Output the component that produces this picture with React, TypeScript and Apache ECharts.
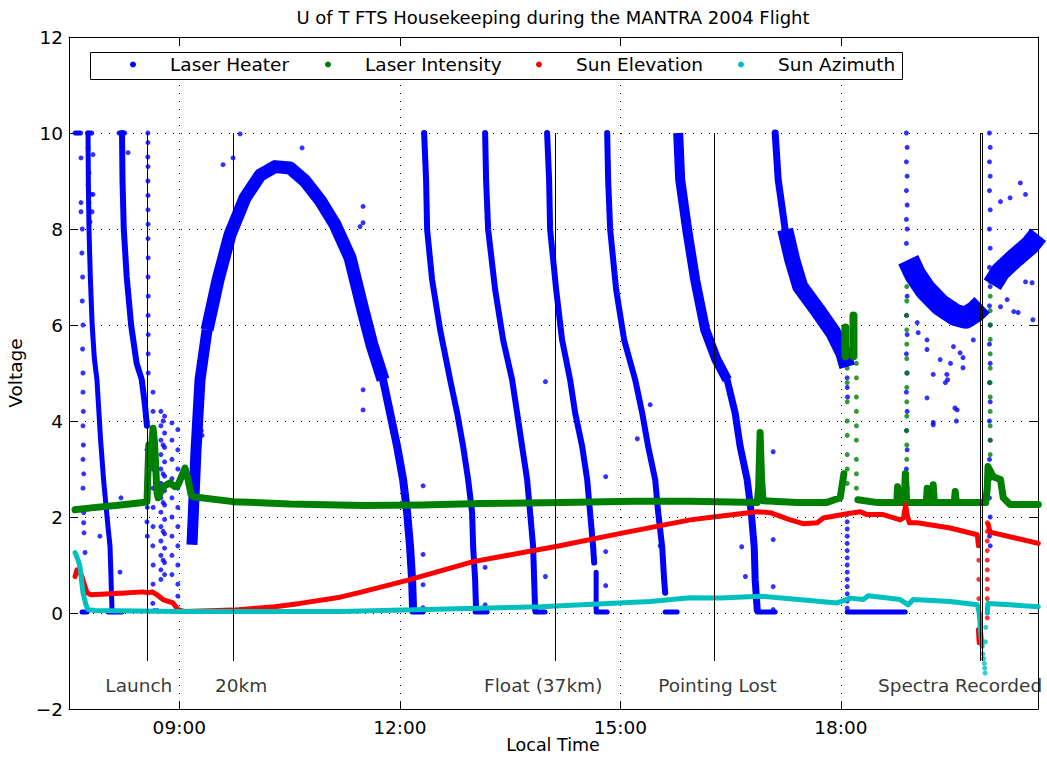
import React, { useEffect, useRef } from 'react';
import * as echarts from 'echarts';

const FONT = 'DejaVu Sans';
const FS = 18.5;
const BLUE = '#0000ff';
const GREEN = '#008000';
const RED = '#ff0000';
const CYAN = '#00bfbf';

// axis ticks
const xTickHours = [9, 12, 15, 18];
const xMin = 7.5;
const xMax = 20.68;
const yMin = -2;
const yMax = 12;
const yStep = 2;

// flight events
const eventNames = ['Launch', '20km', 'Float (37km)', 'Pointing Lost', 'Spectra Recorded'];
const eventLineTimes = [8.565, 9.736, 14.12, 16.27, 19.894, 19.917];
const eventLabelTimes = [8.45, 9.84, 13.95, 16.32, 19.62];
const eventLabelVolt = -1.5;
const eventLineTop = 10;
const eventLineBottom = -1;

// ---------- Laser Heater (dense bands) ----------
const heaterCycle1 = [[7.759, 10.0], [7.763, 9.0], [7.772, 8.0], [7.79, 7.0], [7.815, 6.0], [7.845, 5.3], [7.88, 4.86], [7.93, 3.6], [7.97, 2.78], [8.03, 1.8], [8.058, 1.39], [8.085, 0.06]];
const heaterCycle2 = [[8.221, 10.0], [8.228, 9.0], [8.245, 8.0], [8.285, 7.0], [8.345, 6.0], [8.42, 5.2], [8.49, 4.86], [8.535, 4.3], [8.56, 3.9]];
const heaterArcRise = [[9.173, 1.42], [9.2, 2.4], [9.228, 3.4], [9.282, 4.86], [9.378, 5.9]];
const heaterArcTop = [[9.378, 5.9], [9.527, 6.94], [9.69, 7.88], [9.895, 8.65], [10.099, 9.12], [10.303, 9.3], [10.507, 9.27], [10.711, 9.0], [10.915, 8.6], [11.119, 8.09], [11.323, 7.4], [11.5, 6.3], [11.62, 5.59], [11.772, 4.86]];
const heaterArcFall = [[11.772, 4.86], [11.867, 4.17], [11.963, 3.47], [12.044, 2.78], [12.099, 2.09], [12.139, 1.38], [12.167, 0.69], [12.18, 0.07]];
const heaterBandA = [[12.33, 10.0], [12.357, 9.03], [12.371, 7.99], [12.439, 6.94], [12.548, 5.9], [12.684, 4.86], [12.779, 4.17], [12.861, 3.47], [12.929, 2.78], [12.983, 2.09], [12.997, 1.38], [13.024, 0.69], [13.037, 0.07]];
const heaterBandB = [[13.16, 10.0], [13.173, 9.03], [13.201, 7.99], [13.296, 6.74], [13.405, 5.69], [13.527, 4.86], [13.595, 4.17], [13.663, 3.47], [13.731, 2.78], [13.772, 2.09], [13.813, 1.38], [13.827, 0.69], [13.84, 0.07]];
const heaterBandC = [[14.003, 10.0], [14.03, 9.03], [14.044, 7.99], [14.126, 6.74], [14.207, 5.69], [14.316, 4.86], [14.384, 4.17], [14.48, 3.47], [14.548, 2.78], [14.588, 2.09], [14.629, 1.38], [14.643, 1.05]];
const heaterBandCTail = [[14.67, 0.85], [14.67, 0.07]];
const heaterBandD = [[14.82, 10.0], [14.833, 9.03], [14.861, 7.99], [14.942, 6.74], [15.051, 5.69], [15.201, 4.86], [15.296, 4.17], [15.377, 3.47], [15.473, 2.78], [15.514, 2.09], [15.568, 1.38], [15.595, 0.69], [15.609, 0.42]];
const heaterBandEUpper = [[15.786, 10.0], [15.813, 9.03], [15.908, 7.99], [16.017, 6.94], [16.153, 5.9], [16.3, 5.3], [16.452, 4.86]];
const heaterBandELower = [[16.452, 4.86], [16.56, 4.17], [16.629, 3.47], [16.724, 2.78], [16.78, 2.09], [16.82, 1.38], [16.833, 0.69], [16.861, 0.07]];
const heaterBandFUpper = [[17.105, 10.0], [17.146, 9.03], [17.241, 7.99]];
const heaterBandFLower = [[17.241, 7.99], [17.337, 7.36], [17.446, 6.8], [17.677, 6.32], [17.895, 5.84], [18.031, 5.42], [18.085, 5.13]];
const heaterBowl = [[18.915, 7.36], [19.01, 7.05], [19.146, 6.74], [19.35, 6.42], [19.554, 6.21], [19.69, 6.15], [19.827, 6.28], [19.92, 6.42]];
const heaterFinal = [[20.058, 6.84], [20.167, 7.11], [20.37, 7.4], [20.575, 7.67], [20.684, 7.88]];
const heaterFloors = [
  [[7.677, 0.02], [7.745, 0.02]],
  [[8.03, 0.02], [8.22, 0.02]],
  [[12.167, 0.02], [12.316, 0.02]],
  [[13.024, 0.02], [13.187, 0.02]],
  [[13.84, 0.02], [13.976, 0.02]],
  [[14.67, 0.02], [14.82, 0.02]],
  [[15.609, 0.02], [15.772, 0.02]],
  [[16.861, 0.02], [17.105, 0.02]],
  [[18.085, 0.02], [18.874, 0.02]],
];

// ---------- Laser Heater (scattered samples) ----------
const heaterDotsEarly = [
  [7.58, 10], [7.6, 10], [7.62, 10], [7.64, 10], [7.66, 10], [7.75, 10], [7.77, 10], [7.79, 10], [7.81, 10],
  [8.18, 10], [8.2, 10], [8.24, 10], [8.26, 10],
  [7.663, 9.48], [7.759, 9.69], [7.827, 9.55], [7.772, 9.17], [7.759, 8.92], [7.799, 8.72], [7.827, 8.72],
  [7.772, 8.55], [7.663, 8.55], [7.663, 8.36], [7.813, 8.36], [7.786, 8.15],
  [7.68, 8.0], [7.675, 7.5], [7.685, 7.0], [7.68, 6.5], [7.69, 6.0], [7.685, 5.5], [7.69, 5.0], [7.69, 4.6],
  [7.695, 4.2], [7.69, 3.9], [7.695, 3.5], [7.69, 3.2], [7.7, 2.9], [7.69, 2.6], [7.7, 2.09], [7.7, 1.88],
  [7.704, 1.67], [7.718, 1.26], [7.92, 1.6], [8.207, 2.4], [8.194, 0.85], [8.303, 9.59],
];
const heaterDotsLaunch = [
  [8.572, 10], [8.574, 9.8], [8.572, 9.5], [8.575, 9.3], [8.573, 9.0], [8.575, 8.7], [8.574, 8.4], [8.576, 8.1],
  [8.575, 7.8], [8.577, 7.4], [8.575, 7.0], [8.578, 6.6], [8.576, 6.2], [8.578, 5.8], [8.577, 5.4], [8.578, 5.0],
  [8.56, 3.4], [8.565, 3.0], [8.56, 2.6], [8.565, 2.2], [8.56, 1.9], [8.565, 1.6],
  [8.643, 4.6], [8.643, 4.2], [8.64, 3.8], [8.645, 3.4], [8.643, 3.0], [8.64, 2.6], [8.645, 2.2], [8.643, 1.8],
  [8.64, 1.4], [8.645, 1.0], [8.643, 0.6], [8.64, 0.2], [8.66, 0.05], [8.7, 0.05],
  [8.75, 4.2], [8.75, 3.9], [8.75, 3.6], [8.75, 3.3], [8.75, 3.0], [8.75, 2.7], [8.75, 2.4], [8.75, 2.1],
  [8.75, 1.8], [8.75, 1.5], [8.75, 1.2], [8.75, 0.9], [8.75, 0.7],
  [8.8, 4.1], [8.8, 3.75], [8.8, 3.45], [8.8, 3.15], [8.8, 2.85], [8.8, 2.55], [8.8, 2.25], [8.8, 1.95],
  [8.8, 1.65], [8.8, 1.35], [8.8, 1.05], [8.8, 0.8],
  [8.78, 4.0], [8.78, 3.5], [8.78, 2.9], [8.78, 2.3], [8.78, 1.7], [8.78, 1.1],
  [8.9, 3.96], [8.9, 3.6], [8.9, 3.2], [8.9, 2.8], [8.9, 2.4], [8.9, 2.0], [8.9, 1.6], [8.9, 1.2], [8.9, 0.8],
  [8.98, 3.82], [8.98, 3.4], [8.98, 3.0], [8.98, 2.6], [8.98, 2.2], [8.98, 1.8], [8.98, 1.4], [8.98, 1.0],
  [8.98, 0.6], [8.98, 0.35], [9.18, 1.8], [9.18, 1.6], [9.3, 3.8], [9.31, 3.7],
];
const heaterDotsMid = [
  [9.595, 9.34], [9.827, 9.98], [9.731, 9.48], [10.67, 9.69], [11.459, 8.05], [11.5, 8.47], [11.5, 8.13],
  [11.5, 4.65], [11.5, 4.23], [12.316, 2.65], [12.316, 1.22], [12.316, 0.59], [12.316, 0.11],
  [13.16, 0.95], [13.16, 0.17], [13.98, 0.76], [13.98, 4.82], [14.8, 2.84], [14.8, 1.28], [14.8, 0.57],
  [15.405, 4.34], [15.23, 3.63], [15.54, 1.4],
  [17.078, 3.36], [17.078, 1.53], [17.078, 0.55], [17.078, 0.07], [16.7, 0.76], [16.65, 1.38],
  [18.085, 4.9], [18.085, 4.7], [18.09, 4.5],
  [18.085, 2.05], [18.085, 1.9], [18.085, 1.75], [18.085, 1.6], [18.085, 1.45], [18.085, 1.3], [18.085, 1.15],
  [18.085, 1.0], [18.085, 0.85], [18.085, 0.7], [18.085, 0.55], [18.085, 0.4], [18.085, 0.25], [18.085, 0.1],
];
const heaterDotsLate = [
  [18.89, 10], [18.9, 9.7], [18.89, 9.4], [18.9, 9.1], [18.89, 8.8], [18.9, 8.5], [18.89, 8.2], [18.9, 8.0],
  [18.89, 7.7], [18.9, 6.6], [18.89, 6.2], [18.9, 5.8], [18.89, 5.4], [18.9, 5.0], [18.89, 4.6], [18.9, 4.2],
  [18.89, 3.8], [18.9, 3.4], [18.89, 3.0], [18.9, 2.6], [18.89, 2.4],
  [20.02, 10], [20.03, 9.7], [20.02, 9.4], [20.03, 9.1], [20.02, 8.8], [20.03, 8.4], [20.02, 8.0], [20.03, 7.6],
  [20.02, 7.2], [20.03, 6.8], [20.02, 6.4], [20.03, 6.0], [20.02, 5.6], [20.03, 5.2], [20.02, 4.8], [20.03, 4.4],
  [20.02, 4.0], [20.03, 3.6], [20.02, 3.2], [20.03, 2.8], [20.02, 2.4], [20.03, 2.0], [20.02, 1.6], [20.03, 1.4],
  [19.17, 4.48], [19.255, 3.97], [19.55, 4.27], [19.57, 4.0], [19.42, 4.8],
  [20.44, 8.96], [20.17, 8.57], [20.3, 8.65], [20.51, 8.72],
  [19.037, 6.05], [19.05, 5.84], [19.17, 5.49], [19.255, 4.97], [19.255, 3.92], [19.44, 4.97], [19.45, 4.86],
  [19.58, 4.23], [19.66, 5.11], [19.66, 5.32], [19.53, 5.55], [19.62, 5.42], [19.8, 5.69], [19.35, 5.28],
  [19.49, 5.2], [19.17, 5.69], [20.17, 6.38], [20.26, 6.53], [20.35, 6.28], [20.41, 6.26], [20.51, 6.9],
  [20.6, 6.88], [20.61, 6.11],
];

// ---------- Laser Intensity ----------
const intensityMain1 = [[7.582, 2.15], [7.8, 2.19], [8.2, 2.25], [8.507, 2.3], [8.561, 2.32], [8.575, 3.0], [8.585, 3.5], [8.6, 3.1], [8.615, 3.3], [8.643, 3.85], [8.66, 3.6], [8.675, 3.2], [8.69, 2.7], [8.697, 2.5], [8.711, 2.4], [8.779, 2.63], [8.874, 2.71], [8.942, 2.63], [8.983, 2.67], [9.078, 3.02], [9.12, 2.78], [9.16, 2.47], [9.187, 2.42], [9.731, 2.32], [10.5, 2.27], [11.5, 2.24], [12.3, 2.25], [13.1, 2.28], [14.2, 2.3], [15.2, 2.33], [15.95, 2.33], [16.5, 2.31], [16.86, 2.3], [16.88, 2.6], [16.9, 3.76], [16.92, 2.8], [16.94, 2.34], [17.4, 2.3], [17.8, 2.3], [17.99, 2.4], [18.04, 2.9]];
const intensityMain2 = [[18.23, 2.36], [18.5, 2.3], [18.76, 2.3], [18.77, 2.63], [18.785, 2.3], [18.86, 2.3], [18.875, 2.9], [18.895, 2.3], [19.16, 2.3], [19.173, 2.6], [19.186, 2.3], [19.24, 2.3], [19.255, 2.67], [19.27, 2.3], [19.54, 2.3], [19.554, 2.53], [19.57, 2.3], [19.97, 2.3], [19.99, 2.6], [20.0, 3.05], [20.07, 2.84], [20.17, 2.78], [20.207, 2.4], [20.3, 2.26], [20.684, 2.26]];
const intensityBurstA = [[18.06, 5.35], [18.06, 5.95]];
const intensityBurstB = [[18.17, 5.35], [18.17, 6.2]];
const intensityDots = [
  [18.085, 5.1], [18.085, 4.8], [18.085, 4.4], [18.085, 4.0], [18.085, 3.7], [18.085, 3.3], [18.085, 3.0], [18.085, 2.7],
  [18.21, 5.2], [18.21, 4.9], [18.21, 4.5], [18.21, 4.2], [18.21, 3.9], [18.21, 3.6], [18.21, 3.2], [18.21, 2.9], [18.21, 2.6],
  [18.895, 6.8], [18.895, 6.5], [18.895, 6.2], [18.895, 5.9], [18.895, 5.6], [18.895, 5.3], [18.895, 5.0], [18.895, 4.7],
  [18.895, 4.4], [18.895, 4.1], [18.895, 3.8], [18.895, 3.5], [18.895, 3.2], [18.895, 2.9], [18.895, 2.6],
  [20.03, 6.9], [20.03, 6.6], [20.03, 6.3], [20.03, 6.0], [20.03, 5.7], [20.03, 5.4], [20.03, 5.1], [20.03, 4.8],
  [20.03, 4.5], [20.03, 4.2], [20.03, 3.9], [20.03, 3.6], [20.03, 3.3],
];

// ---------- Sun Elevation ----------
const elevationMain = [[7.582, 0.76], [7.609, 0.9], [7.65, 0.86], [7.69, 0.69], [7.745, 0.42], [7.8, 0.38], [8.2, 0.41], [8.507, 0.44], [8.575, 0.42], [8.63, 0.44], [8.697, 0.38], [8.779, 0.28], [8.915, 0.21], [8.983, 0.07], [9.078, 0.03], [9.731, 0.06], [10.3, 0.13], [10.643, 0.2], [11.187, 0.33], [11.459, 0.43], [12.099, 0.68], [12.997, 1.07], [14.14, 1.39], [15.037, 1.67], [15.949, 1.94], [16.262, 2.0], [16.861, 2.11], [17.037, 2.09], [17.31, 1.94], [17.486, 1.86], [17.677, 1.88], [17.759, 1.98], [17.949, 2.03], [18.126, 2.08], [18.262, 2.11], [18.357, 2.05], [18.575, 2.05], [18.806, 1.94], [18.85, 1.98], [18.88, 2.25], [18.9, 2.05], [18.93, 1.88], [19.037, 1.88], [19.486, 1.77], [19.854, 1.63], [19.87, 1.4]];
const elevationDip = [[19.87, -0.35], [19.88, -0.62], [19.89, -0.5]];
const elevationAfter = [[20.003, 1.85], [20.03, 1.67], [20.071, 1.67], [20.684, 1.45]];
const elevationDots = [
  [19.875, 1.5], [19.875, 1.1], [19.875, 0.7], [19.875, 0.3],
  [19.99, 1.88], [19.99, 1.7], [19.99, 1.5], [19.99, 1.3], [19.99, 1.1], [19.99, 0.9], [19.99, 0.7], [19.99, 0.5],
  [19.99, 0.3], [19.99, 0.1], [19.99, -0.1],
];

// ---------- Sun Azimuth ----------
const azimuthMain = [[7.582, 1.26], [7.622, 1.11], [7.65, 0.96], [7.677, 0.59], [7.69, 0.42], [7.731, 0.17], [7.759, 0.07], [7.854, 0.05], [9.01, 0.03], [11.187, 0.03], [13.913, 0.13], [15.405, 0.24], [15.949, 0.32], [16.357, 0.31], [16.901, 0.35], [17.949, 0.21], [18.126, 0.31], [18.303, 0.28], [18.371, 0.36], [18.806, 0.28], [18.915, 0.17], [18.983, 0.28], [19.486, 0.24], [19.854, 0.17], [19.88, 0.0], [19.9, -0.4], [19.92, -0.7]];
const azimuthAfter = [[19.99, 0.0], [20.0, 0.2], [20.3, 0.17], [20.684, 0.13]];
const azimuthDots = [[19.93, -0.85], [19.94, -0.95], [19.95, -1.05], [19.955, -1.15], [19.96, -1.25], [19.965, -0.6], [19.97, -0.3]];

function line(name: string, data: number[][], color: string, width: number) {
  return {
    type: 'line', name, data, color, showSymbol: false, symbol: 'none', silent: true,
    lineStyle: { color, width, cap: width > 9 ? 'butt' : 'round', join: 'round' },
  };
}
function dots(name: string, data: number[][], color: string) {
  return { type: 'scatter', name, data, color, symbolSize: 5, silent: true, itemStyle: { color } };
}

const H = 'Laser Heater';
const I = 'Laser Intensity';
const E = 'Sun Elevation';
const A = 'Sun Azimuth';

const series: any[] = [
  line(H, heaterCycle1, BLUE, 5),
  line(H, heaterCycle2, BLUE, 6),
  line(H, heaterArcRise, BLUE, 11),
  line(H, heaterArcTop, BLUE, 13),
  line(H, heaterArcFall, BLUE, 8),
  line(H, heaterBandA, BLUE, 6),
  line(H, heaterBandB, BLUE, 6),
  line(H, heaterBandC, BLUE, 6),
  line(H, heaterBandCTail, BLUE, 5),
  line(H, heaterBandD, BLUE, 6),
  line(H, heaterBandEUpper, BLUE, 10),
  line(H, heaterBandELower, BLUE, 7),
  line(H, heaterBandFUpper, BLUE, 7),
  line(H, heaterBandFLower, BLUE, 16),
  line(H, heaterBowl, BLUE, 22),
  line(H, heaterFinal, BLUE, 20),
  ...heaterFloors.map((f) => line(H, f, BLUE, 5)),
  dots(H, heaterDotsEarly, BLUE),
  dots(H, heaterDotsLaunch, BLUE),
  dots(H, heaterDotsMid, BLUE),
  dots(H, heaterDotsLate, BLUE),
  line(I, intensityMain1, GREEN, 7),
  line(I, intensityMain2, GREEN, 7),
  line(I, intensityBurstA, GREEN, 8),
  line(I, intensityBurstB, GREEN, 8),
  dots(I, intensityDots, GREEN),
  line(E, elevationMain, RED, 5),
  line(E, elevationDip, RED, 5),
  line(E, elevationAfter, RED, 5),
  dots(E, elevationDots, RED),
  line(A, azimuthMain, CYAN, 5),
  line(A, azimuthAfter, CYAN, 5),
  dots(A, azimuthDots, CYAN),
  {
    type: 'scatter',
    name: 'events',
    silent: true,
    symbolSize: 2,
    itemStyle: { color: 'rgba(0,0,0,0)' },
    data: eventLabelTimes.map((t, i) => ({ name: eventNames[i], value: [t, eventLabelVolt] })),
    label: {
      show: true, position: 'inside', formatter: '{b}', color: '#000',
      fontFamily: FONT, fontSize: FS,
    },
    labelLayout: { hideOverlap: false },
    markLine: {
      silent: true,
      symbol: ['none', 'none'],
      label: { show: false },
      lineStyle: { color: '#000', width: 1, type: 'solid' },
      data: eventLineTimes.map((t) => [{ coord: [t, eventLineTop] }, { coord: [t, eventLineBottom] }]),
    },
    z: 6,
  },
];

const legendNames = [H, I, E, A];
const legendMarkerX = [133, 328, 539, 741];

const fmtHour = (v: number) => (v < 10 ? '0' + v : String(v)) + ':00';
const fmtVolt = (v: number) => (v < 0 ? '\u2212' + Math.abs(v) : String(v));

const axisLine = { show: true, onZero: false, lineStyle: { color: '#000', width: 1 } };
const tickIn = { show: true, inside: true, length: 8, lineStyle: { color: '#000', width: 1 } };

const option: any = {
  animation: false,
  backgroundColor: '#fff',
  textStyle: { fontFamily: FONT },
  grid: { left: 69, right: 9, top: 37, bottom: 50, containLabel: false, outerBoundsMode: 'none' },
  graphic: [
    {
      type: 'text', x: 553, y: 17, z: 10,
      style: {
        text: 'U of T FTS Housekeeping during the MANTRA 2004 Flight',
        fill: '#000', font: '18px "DejaVu Sans"', textAlign: 'center', textVerticalAlign: 'middle',
      },
    },
    {
      type: 'text', x: 553, y: 745, z: 10,
      style: {
        text: 'Local Time',
        fill: '#000', font: '17.5px "DejaVu Sans"', textAlign: 'center', textVerticalAlign: 'middle',
      },
    },
    {
      type: 'rect', z: 3, silent: true,
      shape: { x: 90.5, y: 52.5, width: 812, height: 27 },
      style: { fill: '#fff', stroke: '#000', lineWidth: 1 },
    },
  ],
  legend: legendNames.map((n, i) => ({
    left: legendMarkerX[i] - 3,
    top: 55,
    padding: 0,
    itemGap: 0,
    itemWidth: 64,
    itemHeight: 6,
    z: 5,
    selectedMode: false,
    data: [{ name: n, icon: 'circle' }],
    textStyle: { fontFamily: FONT, fontSize: FS, color: '#000', padding: [0, 0, 0, 0] },
  })),
  xAxis: [
    {
      type: 'value', min: xMin, max: xMax, position: 'bottom',
      axisLine, axisTick: { ...tickIn, customValues: xTickHours },
      axisLabel: { customValues: xTickHours, formatter: fmtHour, fontFamily: FONT, fontSize: FS, color: '#000', margin: 9 },
      splitLine: { show: true, lineStyle: { color: '#000', width: 1, type: [1, 7] } },
    },
    {
      type: 'value', min: xMin, max: xMax, position: 'top',
      axisLine, axisTick: { ...tickIn, customValues: xTickHours },
      axisLabel: { show: false, customValues: xTickHours },
      splitLine: { show: false },
    },
  ],
  yAxis: [
    {
      type: 'value', min: yMin, max: yMax, interval: yStep, position: 'left',
      name: 'Voltage', nameLocation: 'middle', nameGap: 40,
      nameTextStyle: { fontFamily: FONT, fontSize: FS, color: '#000' },
      axisLine, axisTick: tickIn,
      axisLabel: { formatter: fmtVolt, fontFamily: FONT, fontSize: FS, color: '#000', margin: 6 },
      splitLine: { show: true, lineStyle: { color: '#000', width: 1, type: [1, 7] } },
    },
    {
      type: 'value', min: yMin, max: yMax, interval: yStep, position: 'right',
      axisLine, axisTick: tickIn, axisLabel: { show: false }, splitLine: { show: false },
    },
  ],
  series,
};

export default function App() {
  const ref = useRef<HTMLDivElement>(null);
  useEffect(() => {
    if (!ref.current) return;
    const chart = echarts.init(ref.current, null, { renderer: 'svg' });
    chart.setOption(option);
    return () => chart.dispose();
  }, []);
  return (
    <div
      ref={ref}
      style={{ position: 'fixed', left: 0, top: 0, width: 1047, height: 759, background: '#fff' }}
    />
  );
}
